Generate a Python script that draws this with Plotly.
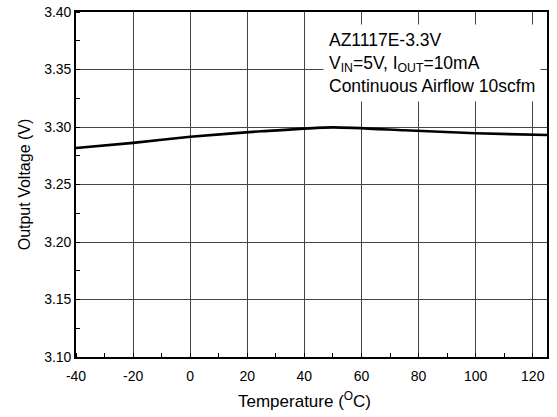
import plotly.graph_objects as go

temperature = [-40, -20, 0, 25, 50, 75, 100, 125]
output_voltage = [3.2817, 3.2862, 3.2915, 3.2963, 3.2997, 3.2972, 3.2945, 3.2930]

x_ticks = [-40, -20, 0, 20, 40, 60, 80, 100, 120]
y_ticks = [3.10, 3.15, 3.20, 3.25, 3.30, 3.35, 3.40]
y_tick_labels = ["3.10", "3.15", "3.20", "3.25", "3.30", "3.35", "3.40"]

font_family = "Liberation Sans, Arial, sans-serif"

fig = go.Figure()
fig.add_trace(go.Scatter(
    x=temperature, y=output_voltage, mode="lines",
    line=dict(color="black", width=2.6, shape="spline", smoothing=0.6),
    showlegend=False, hoverinfo="skip",
))

fig.update_layout(
    width=557, height=417,
    margin=dict(l=76, r=10, t=12, b=60, autoexpand=False),
    paper_bgcolor="white", plot_bgcolor="white",
    font=dict(family=font_family, size=14, color="black"),
    xaxis=dict(
        range=[-40, 125], tickvals=x_ticks, ticktext=[str(v) for v in x_ticks],
        showgrid=True, gridcolor="#444444", gridwidth=1.2,
        showline=True, linecolor="black", linewidth=1.6, mirror=True,
        ticks="", zeroline=False, automargin=False, ticklabelstandoff=5,
        minor=dict(ticks="inside", ticklen=4, tickcolor="black", dtick=10, tick0=-40, showgrid=False),
        tickfont=dict(size=14),
    ),
    yaxis=dict(
        range=[3.10, 3.40], tickvals=y_ticks, ticktext=y_tick_labels,
        showgrid=True, gridcolor="#444444", gridwidth=1.2,
        showline=True, linecolor="black", linewidth=1.6, mirror=True,
        ticks="", zeroline=False, automargin=False,
        minor=dict(ticks="inside", ticklen=4, tickcolor="black", dtick=0.025, tick0=3.10, showgrid=False),
        title=dict(text="Output Voltage (V)", font=dict(size=16), standoff=10),
        tickfont=dict(size=14),
    ),
    annotations=[
        dict(
            xref="paper", yref="paper", x=0.525, y=0.965,
            xanchor="left", yanchor="top", align="left", showarrow=False,
            text="AZ1117E-3.3V<br>V<sub>IN</sub>=5V, I<sub>OUT</sub>=10mA<br>Continuous Airflow 10scfm",
            font=dict(size=17.5, family=font_family, color="black"),
            bgcolor="white", borderpad=5,
        ),
        dict(
            xref="paper", yref="paper", x=0.486, y=-0.125,
            xanchor="center", yanchor="middle", showarrow=False,
            text="Temperature (<sup>O</sup>C)",
            font=dict(size=17, family=font_family, color="black"),
        ),
    ],
)

fig.write_html("out.html", config={"displayModeBar": False},
               post_script="document.body.style.margin='0px';")
